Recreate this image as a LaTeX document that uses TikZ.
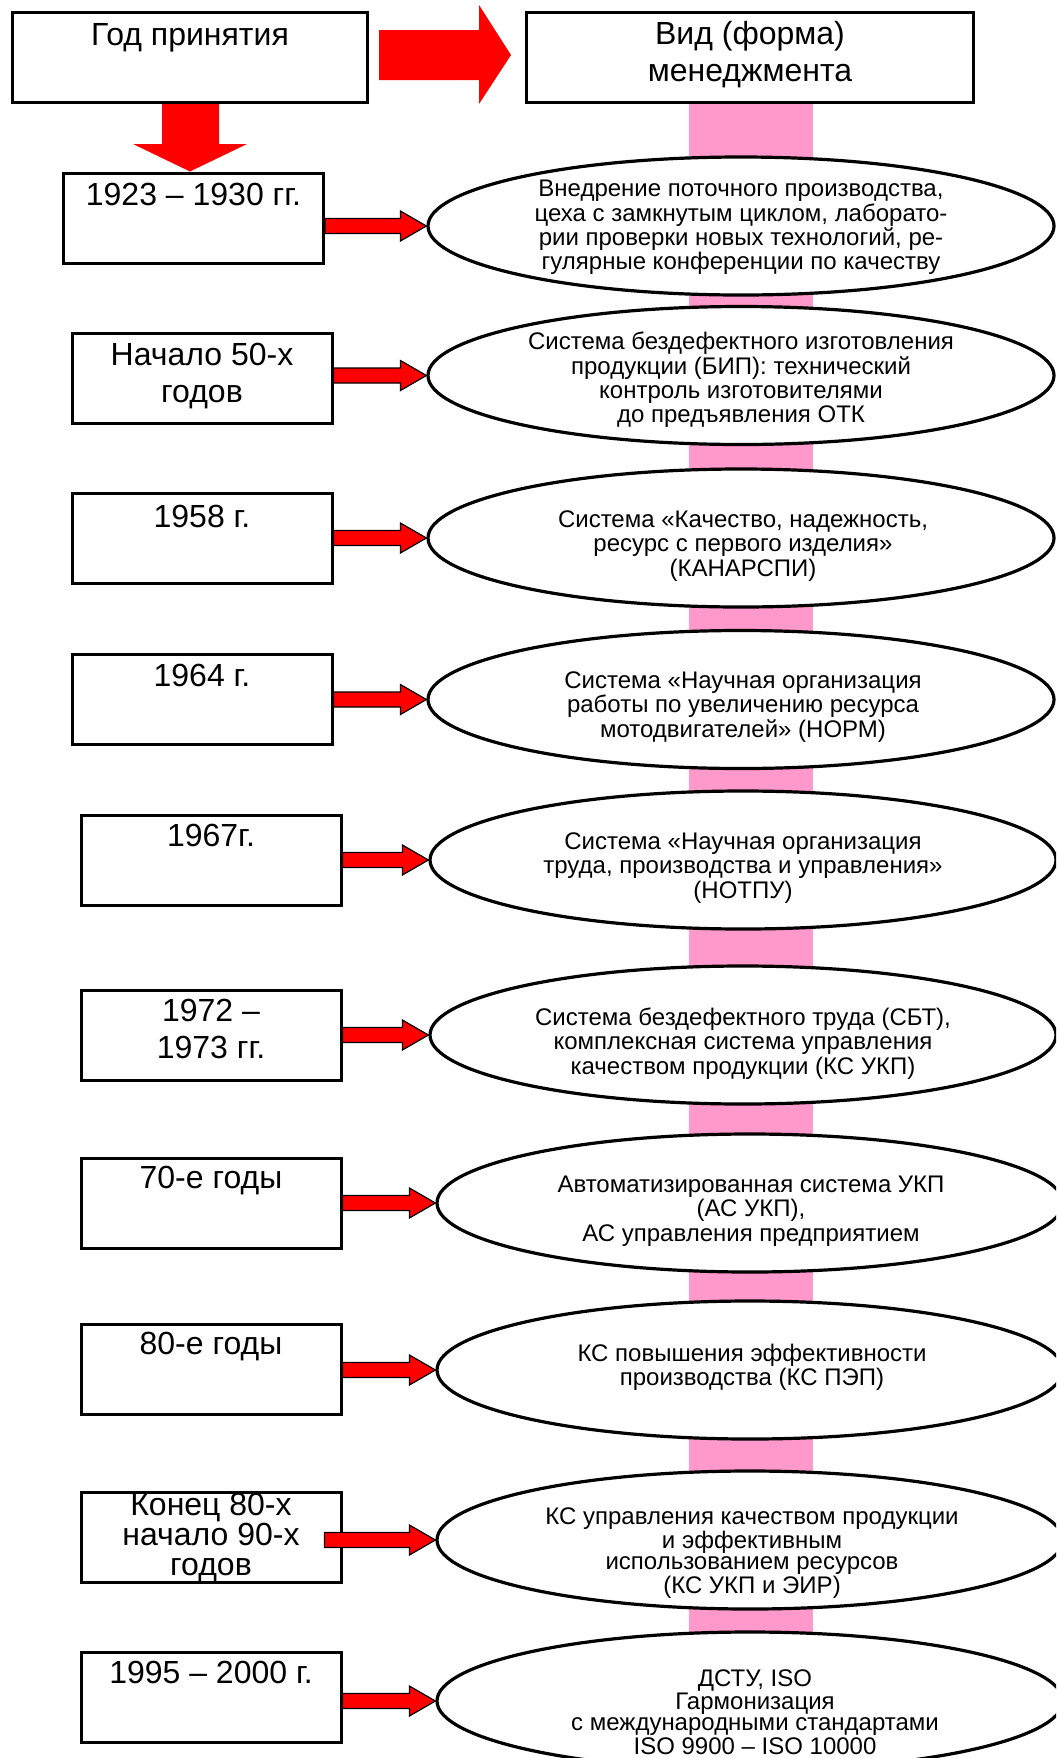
\documentclass[tikz,border=0pt]{standalone}
\usepackage{fontspec}
\setmainfont{Liberation Sans}
\usetikzlibrary{calc,shapes.geometric}
\definecolor{barpink}{RGB}{255,153,204}
\definecolor{arrred}{RGB}{255,0,0}
\newcommand{\smallarr}[3]{%
  \filldraw[sarrow] ($(#1.east|-#2.west)+(#3,-7.5)$) -- ($(#2.west)+(-26,-7.5)$) -- ($(#2.west)+(-26,-15)$) -- (#2.west) -- ($(#2.west)+(-26,15)$) -- ($(#2.west)+(-26,7.5)$) -- ($(#1.east|-#2.west)+(#3,7.5)$) -- cycle;}
\begin{document}
\begin{tikzpicture}[x=0.5pt,y=-0.5pt,
  ybox/.style={draw,line width=1.5pt,rectangle,minimum width=130pt,minimum height=45pt,inner sep=0pt,fill=white},
  hbox/.style={draw,line width=1.5pt,rectangle,minimum height=45pt,inner sep=0pt,fill=white},
  ell/.style={draw,line width=1.6pt,ellipse,minimum width=313pt,minimum height=69pt,inner sep=0pt,fill=white},
  ytext/.style={font=\fontsize{16}{18.5}\selectfont,align=center,inner sep=0pt},
  etext/.style={font=\fontsize{12}{12.2}\selectfont,align=center,inner sep=0pt},
  etextt/.style={font=\fontsize{12}{10.5}\selectfont,align=center,inner sep=0pt},
  sarrow/.style={fill=arrred,draw=black,line width=0.6pt,line join=miter},
  barrow/.style={fill=arrred,draw=none}]
\useasboundingbox (0,0) rectangle (1056,1758);
\clip (0,0) rectangle (1056,1758);
% pink bar
\fill[barpink] (689,100) rectangle (813,1760);
% header
\node[hbox,minimum width=177.5pt] (h1) at (190,57.5) {};
\node[ytext] (h1t) at (190,37.5) {Год принятия};
\node[hbox,minimum width=223.5pt] (h2) at (750,57.5) {};
\node[ytext] (h2t) at (750,55) {Вид (форма)\\менеджмента};
% rows: boxes
\node[ybox] (b1) at (193.5,218) {};
\node[ytext] (b1t) at (193.5,194) {1923 – 1930 гг.};
\node[ybox] (b2) at (202,378.5) {};
\node[ytext] (b2t) at (202,376) {Начало 50-х\\годов};
\node[ybox] (b3) at (202,538.5) {};
\node[ytext] (b3t) at (202,516) {1958 г.};
\node[ybox] (b4) at (202,699) {};
\node[ytext] (b4t) at (202,675) {1964 г.};
\node[ybox] (b5) at (211,860.5) {};
\node[ytext] (b5t) at (211,835) {1967г.};
\node[ybox] (b6) at (211,1035.5) {};
\node[ytext] (b6t) at (211,1028.5) {1972 –\\1973 гг.};
\node[ybox] (b7) at (211,1203.5) {};
\node[ytext] (b7t) at (211,1180) {70-е годы};
\node[ybox] (b8) at (211,1369.5) {};
\node[ytext] (b8t) at (211,1346) {80-е годы};
\node[ybox] (b9) at (211,1537.5) {};
\node[ytext,font=\fontsize{16}{15}\selectfont] (b9t) at (211,1537) {Конец 80-х\\начало 90-х\\годов};
\node[ybox] (b10) at (211,1697) {};
\node[ytext] (b10t) at (211,1672.5) {1995 – 2000 г.};
% ellipses
\node[ell] (e1) at (741,226) {};
\node[etext] (e1t) at (741,227.5) {Внедрение поточного производства,\\цеха с замкнутым циклом, лаборато-\\рии проверки новых технологий, ре-\\гулярные конференции по качеству};
\node[ell] (e2) at (741,375.5) {};
\node[etext] (e2t) at (741,380) {Система бездефектного изготовления\\продукции (БИП): технический\\контроль изготовителями\\до предъявления ОТК};
\node[ell] (e3) at (741,538) {};
\node[etext] (e3t) at (743,546) {Система «Качество, надежность,\\ресурс с первого изделия»\\(КАНАРСПИ)};
\node[ell] (e4) at (741,699.5) {};
\node[etext] (e4t) at (743,707) {Система «Научная организация\\работы по увеличению ресурса\\мотодвигателей» (НОРМ)};
\node[ell] (e5) at (743,860) {};
\node[etext] (e5t) at (743,868) {Система «Научная организация\\труда, производства и управления»\\(НОТПУ)};
\node[ell] (e6) at (743,1035) {};
\node[etext] (e6t) at (743,1043.5) {Система бездефектного труда (СБТ),\\комплексная система управления\\качеством продукции (КС УКП)};
\node[ell] (e7) at (750,1203) {};
\node[etext] (e7t) at (751,1211) {Автоматизированная система УКП\\(АС УКП),\\АС управления предприятием};
\node[ell] (e8) at (750,1370) {};
\node[etext] (e8t) at (752,1367) {КС повышения эффективности\\производства (КС ПЭП)};
\node[ell] (e9) at (750,1540) {};
\node[etextt] (e9t) at (752,1553) {КС управления качеством продукции\\и эффективным\\использованием ресурсов\\(КС УКП и ЭИР)};
\node[ell] (e10) at (750,1701) {};
\node[etextt] (e10t) at (755,1712) {ДСТУ, ISO\\Гармонизация\\с международными стандартами\\ISO 9900 – ISO 10000};
% big arrows
\fill[barrow] ($(h1.east)+(10,-27.5)$) -- ($(h2.west)+(-46,-27.5)$) -- ($(h2.west)+(-46,-52.5)$) -- ($(h2.west)+(-14,-2.5)$) -- ($(h2.west)+(-46,46.5)$) -- ($(h2.west)+(-46,22.5)$) -- ($(h1.east)+(10,22.5)$) -- cycle;
\fill[barrow] ($(h1.south)+(-28,0)$) -- ($(h1.south)+(29,0)$) -- ($(h1.south)+(29,40)$) -- ($(h1.south)+(57,40)$) -- (h1.south |- b1.north) -- ($(h1.south)+(-57,40)$) -- ($(h1.south)+(-28,40)$) -- cycle;
% small arrows
\smallarr{b1}{e1}{0}
\smallarr{b2}{e2}{0}
\smallarr{b3}{e3}{0}
\smallarr{b4}{e4}{0}
\smallarr{b5}{e5}{0}
\smallarr{b6}{e6}{0}
\smallarr{b7}{e7}{0}
\smallarr{b8}{e8}{0}
\smallarr{b9}{e9}{-18}
\smallarr{b10}{e10}{0}
\end{tikzpicture}
\end{document}
